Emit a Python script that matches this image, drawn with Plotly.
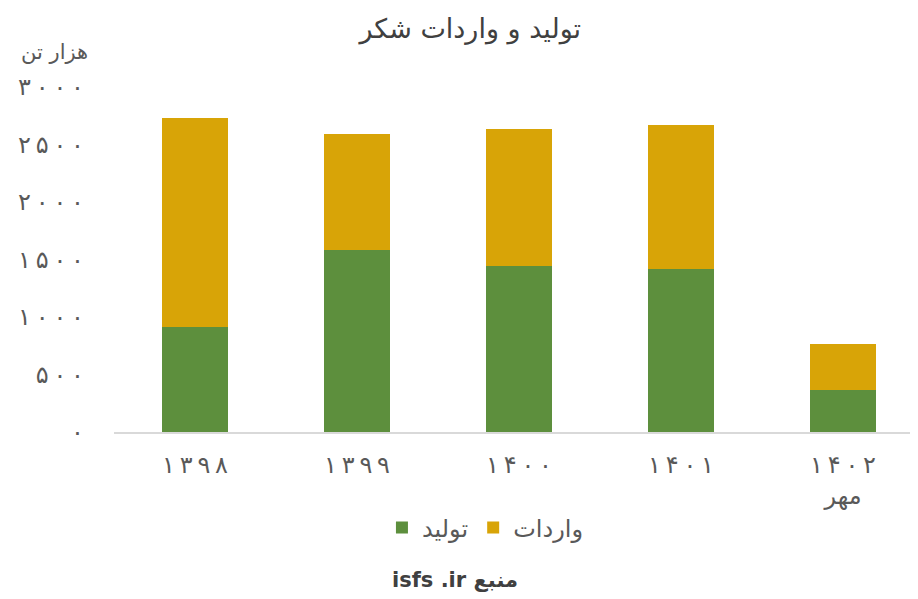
import plotly.graph_objects as go

categories = ["۱۳۹۸", "۱۳۹۹", "۱۴۰۰", "۱۴۰۱", "۱۴۰۲<br>مهر"]
production = [913, 1583, 1443, 1417, 365]
imports = [1817, 1008, 1192, 1253, 400]
tick_vals = [0, 500, 1000, 1500, 2000, 2500, 3000]
tick_text = ["۰", "۵۰۰", "۱۰۰۰", "۱۵۰۰", "۲۰۰۰", "۲۵۰۰", "۳۰۰۰"]

FONT = "DejaVu Sans"
TXT = "#595959"
TS = "\u2009"


def spaced(s):
    # widen digit spacing like the reference typeface
    parts = s.split("<br>")
    parts[0] = TS.join(parts[0])
    return "<br>".join(parts)


fig = go.Figure()
fig.add_trace(go.Bar(x=categories, y=production, name="تولید",
                     marker=dict(color="#5d8f3d", line=dict(width=0))))
fig.add_trace(go.Bar(x=categories, y=imports, name="واردات",
                     marker=dict(color="#d8a407", line=dict(width=0))))

fig.update_layout(
    barmode="stack",
    bargap=0.59,
    width=910, height=591,
    margin=dict(l=106, r=0, t=79, b=167),
    paper_bgcolor="white", plot_bgcolor="white",
    font=dict(family=FONT, color=TXT, size=18),
    title=dict(text="تولید و واردات شکر", x=0.508, xanchor="center", y=0.966,
               yanchor="middle", font=dict(size=27, color="#404040", family=FONT)),
    showlegend=True,
    legend=dict(orientation="h", x=0.462, xanchor="center", y=-0.278, yanchor="middle",
                font=dict(size=24, color=TXT), traceorder="normal"),
    xaxis=dict(showgrid=False, showline=True, linecolor="#d9d9d9", linewidth=2,
               ticks="", ticklabelstandoff=10, range=[-0.5, 4.463],
               tickvals=categories, ticktext=[spaced(c) for c in categories],
               tickfont=dict(size=24, color=TXT)),
    yaxis=dict(range=[0, 3000], tickvals=tick_vals,
               ticktext=[spaced(t) for t in tick_text],
               showgrid=False, zeroline=False, showline=False, ticks="",
               ticklabelstandoff=29, tickfont=dict(size=24, color=TXT)),
    annotations=[
        dict(text="هزار تن", xref="paper", yref="paper", x=-0.03, y=1.101,
             xanchor="right", yanchor="middle", showarrow=False,
             font=dict(size=21, color=TXT)),
        dict(text="<b>isfs .ir منبع</b>", xref="paper", yref="paper", x=0.424, y=-0.429,
             xanchor="center", yanchor="middle", showarrow=False,
             font=dict(size=21, color="#404040")),
    ],
)

fig.write_html("out.html")
